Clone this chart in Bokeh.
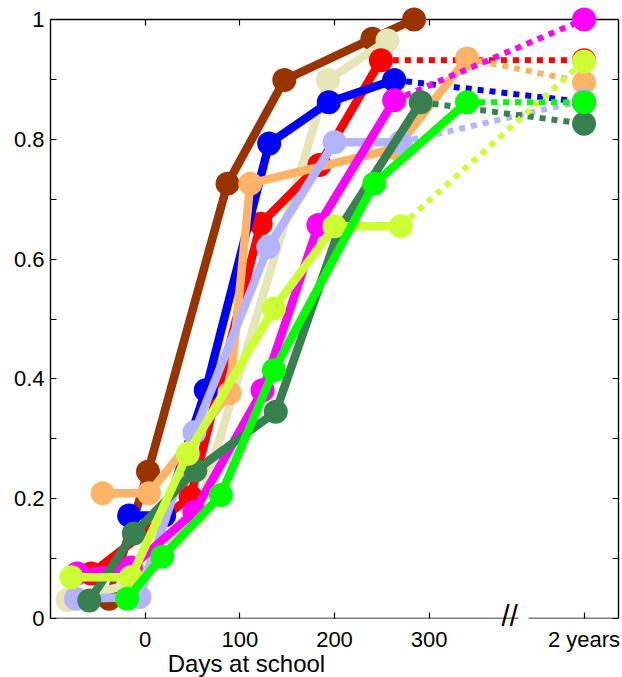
from bokeh.plotting import figure
from bokeh.models import Range1d, LinearAxis, FixedTicker
from bokeh.core.properties import value
from bokeh.embed import file_html
from bokeh.resources import INLINE

# ---- data (days at school vs. proportion) ----
TWO_YEARS_POS = 463.6          # position of the "2 years" point on the broken axis
X_TICKS = [0, 100, 200, 300]
Y_MAJOR = [0, 0.2, 0.4, 0.6, 0.8, 1.0]
Y_MINOR = [0.1, 0.3, 0.5, 0.7, 0.9]
Y_ALL = [0, 0.1, 0.2, 0.3, 0.4, 0.5, 0.6, 0.7, 0.8, 0.9, 1.0]

brown_x = [-38, 3, 87, 147, 240, 284]
brown_y = [0.033, 0.245, 0.726, 0.899, 0.968, 1.0]

beige_x = [-82, -18, 55, 193, 256]
beige_y = [0.031, 0.056, 0.175, 0.899, 0.965]

red_x = [-57, 48, 122, 184, 249]
red_y = [0.075, 0.203, 0.659, 0.757, 0.932]
red_2y = 0.932

blue_x = [-17, 20, 64, 131, 194, 263]
blue_y = [0.172, 0.172, 0.381, 0.793, 0.862, 0.899]
blue_2y = 0.862

peach_x = [-45, 4, 89, 111, 265, 340]
peach_y = [0.209, 0.209, 0.376, 0.726, 0.785, 0.935]
peach_2y = 0.895

lavender_x = [-73, -6, 52, 130, 200, 270]
lavender_y = [0.033, 0.036, 0.311, 0.62, 0.795, 0.795]
lavender_2y = 0.865

magenta_x = [-72, -15, 52, 124, 183, 263]
magenta_y = [0.075, 0.085, 0.178, 0.381, 0.657, 0.865]
magenta_2y = 1.0

dkgreen_x = [-59, -12, 53, 138, 205, 291]
dkgreen_y = [0.03, 0.142, 0.247, 0.345, 0.65, 0.862]
dkgreen_2y = 0.826

ygreen_x = [-78, -15, 45, 136, 200, 270]
ygreen_y = [0.069, 0.069, 0.275, 0.5175, 0.655, 0.655]
ygreen_2y = 0.93

green_x = [-19, 18, 80, 136, 242, 340]
green_y = [0.033, 0.103, 0.206, 0.4145, 0.726, 0.862]
green_2y = 0.862

series = [
    ("#993300", brown_x, brown_y, None),
    ("#E5E5B5", beige_x, beige_y, None),
    ("#FF0000", red_x, red_y, red_2y),
    ("#0000FF", blue_x, blue_y, blue_2y),
    ("#FFB366", peach_x, peach_y, peach_2y),
    ("#B3B3FF", lavender_x, lavender_y, lavender_2y),
    ("#FF00FF", magenta_x, magenta_y, magenta_2y),
    ("#388050", dkgreen_x, dkgreen_y, dkgreen_2y),
    ("#CCFF33", ygreen_x, ygreen_y, ygreen_2y),
    ("#00FF00", green_x, green_y, green_2y),
]

X_LABEL = "Days at school"
X_LABEL_POS = 107          # axis-title centre, in days
BREAK_POS = 385            # where the axis break is drawn
BREAK_GAP = (394.6, 405.2)

FONT = "Liberation Sans"

p = figure(width=622, height=677, x_range=Range1d(-100, 500), y_range=Range1d(0, 1),
           output_backend="svg", toolbar_location=None,
           x_axis_location=None, y_axis_location=None,
           min_border_left=50, min_border_right=4, min_border_top=19, min_border_bottom=59)
p.outline_line_color = None
p.xgrid.grid_line_color = None
p.ygrid.grid_line_color = None
p.background_fill_color = "white"


def style_axis(ax):
    ax.axis_line_color = "black"
    ax.axis_line_width = 1.4
    ax.major_tick_in = 6
    ax.major_tick_out = 0
    ax.minor_tick_in = 6
    ax.minor_tick_out = 0
    ax.major_tick_line_color = "black"
    ax.minor_tick_line_color = "black"
    ax.major_tick_line_width = 1.2
    ax.minor_tick_line_width = 1.2
    ax.major_label_text_font = FONT
    ax.major_label_text_font_size = "22px"
    ax.major_label_text_color = "black"


left = LinearAxis(ticker=FixedTicker(ticks=Y_MAJOR, minor_ticks=Y_MINOR),
                  major_label_overrides={0: "0", 1: "1", "0": "0", "1": "1"})
style_axis(left)
left.major_label_standoff = 6
p.add_layout(left, "left")

# frame borders: only minor ticks (no labels)
right = LinearAxis(ticker=FixedTicker(ticks=[], minor_ticks=Y_ALL))
style_axis(right)
right.major_label_standoff = 0
p.add_layout(right, "right")

top = LinearAxis(ticker=FixedTicker(ticks=[], minor_ticks=X_TICKS))
style_axis(top)
top.major_label_standoff = 0
p.add_layout(top, "above")

bottom_ticks = X_TICKS + [TWO_YEARS_POS]
bottom = LinearAxis(ticker=FixedTicker(ticks=bottom_ticks, minor_ticks=[]),
                    major_label_overrides={TWO_YEARS_POS: "2 years", str(TWO_YEARS_POS): "2 years"})
style_axis(bottom)
bottom.axis_line_color = None
bottom.major_label_standoff = 8
p.add_layout(bottom, "below")

# broken bottom axis line: two segments
for b in [(-100, BREAK_GAP[0]), (BREAK_GAP[1], 500)]:
    seg = LinearAxis(ticker=FixedTicker(ticks=[], minor_ticks=[]), fixed_location=0, bounds=b)
    style_axis(seg)
    seg.major_label_standoff = 0
    p.add_layout(seg, "below")

renderers = []
for color, xs, ys, y2 in series:
    r = p.line(xs, ys, line_color=color, line_width=8.5, line_join="round", line_cap="round")
    renderers.append(r)
    px, py = list(xs), list(ys)
    if y2 is not None:
        r = p.line([xs[-1], TWO_YEARS_POS], [ys[-1], y2], line_color=color, line_width=6,
                   line_dash="6 6")
        renderers.append(r)
        px.append(TWO_YEARS_POS)
        py.append(y2)
    r = p.scatter(px, py, size=24, fill_color=color, line_color=color, line_width=0)
    renderers.append(r)

t1 = p.text(x=[X_LABEL_POS], y=[-0.075], text=[X_LABEL], text_align="center",
            text_baseline="alphabetic", text_font=value(FONT), text_font_size="24px",
            text_color="black")
t2 = p.text(x=[BREAK_POS], y=[0.004], text=["//"], text_align="center",
            text_baseline="alphabetic", text_font=value(FONT), text_font_size="29px",
            text_color="black")
renderers += [t1, t2]

for r in renderers:
    r.level = "overlay"

open("out.html", "w").write(file_html(p, INLINE))
